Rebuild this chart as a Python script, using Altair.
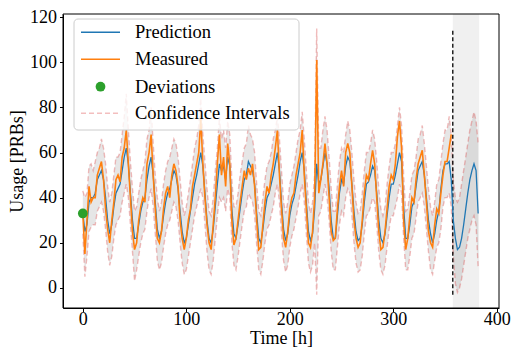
import altair as alt
import pandas as pd

# ---------------- data (2-hour steps) ----------------
step = 2
measured = [
    33, 15, 30, 45, 38, 40, 40, 50, 53, 56, 48, 35,
    26, 20, 30, 38, 48, 50, 47, 58, 62, 70, 55, 40,
    25, 17, 20, 30, 36, 40, 38, 55, 60, 68, 50, 35,
    22, 20, 25, 35, 42, 45, 40, 50, 55, 52, 45, 30,
    22, 17, 22, 30, 35, 45, 50, 55, 60, 75, 55, 40,
    28, 20, 17, 28, 40, 55, 68, 50, 58, 45, 64, 55,
    30, 19, 22, 30, 38, 45, 52, 48, 53, 50, 55, 45,
    30, 17, 18, 28, 38, 45, 42, 50, 55, 62, 70, 50,
    35, 22, 18, 25, 35, 40, 42, 50, 55, 60, 70, 50,
    35, 20, 18, 25, 40, 101, 42, 48, 55, 64, 55, 40,
    25, 21, 22, 35, 45, 52, 45, 60, 64, 60, 45, 30,
    22, 18, 20, 30, 42, 50, 48, 55, 61, 55, 40, 25,
    17, 18, 25, 35, 45, 50, 48, 55, 67, 74, 62, 30,
    17, 22, 32, 40, 38, 48, 55, 58, 61, 50, 38, 25,
    20, 18, 28, 35, 33, 42, 50, 56, 56, 62, 68,
]
prediction = [
    33, 25, 28, 38, 40, 40, 42, 48, 50, 52, 48, 40,
    30, 24, 28, 36, 42, 44, 46, 52, 58, 62, 55, 42,
    30, 22, 22, 28, 34, 38, 40, 48, 54, 58, 50, 38,
    26, 22, 25, 32, 38, 42, 44, 48, 52, 50, 44, 34,
    25, 20, 22, 28, 34, 40, 46, 50, 55, 60, 54, 42,
    30, 22, 20, 26, 36, 46, 55, 52, 54, 48, 58, 54,
    35, 24, 22, 28, 35, 42, 48, 50, 56, 54, 52, 46,
    33, 22, 20, 26, 34, 40, 42, 46, 50, 55, 60, 52,
    38, 26, 21, 24, 32, 37, 40, 45, 50, 56, 60, 52,
    38, 25, 21, 24, 35, 55, 46, 48, 54, 60, 55, 44,
    30, 22, 22, 32, 42, 48, 46, 54, 58, 56, 46, 34,
    25, 21, 22, 28, 38, 46, 47, 50, 54, 52, 42, 30,
    22, 20, 24, 32, 40, 46, 46, 50, 55, 60, 56, 36,
    22, 22, 28, 36, 38, 45, 52, 54, 56, 50, 40, 30,
    24, 20, 24, 30, 34, 44, 52, 55, 55, 56, 48, 30,
    22, 17, 18, 22, 28, 35, 42, 48, 52, 55, 52, 33,
]
ci_upper = [
    43, 40, 42, 54, 55, 52, 56, 60, 62, 66, 62, 55,
    45, 38, 42, 50, 58, 58, 60, 68, 76, 86, 70, 56,
    44, 34, 36, 42, 48, 52, 56, 66, 70, 80, 64, 50,
    40, 34, 38, 46, 52, 56, 58, 62, 66, 64, 58, 48,
    38, 32, 36, 42, 48, 55, 62, 66, 72, 84, 68, 56,
    44, 34, 32, 40, 52, 62, 76, 66, 70, 62, 74, 68,
    48, 36, 36, 42, 50, 56, 62, 64, 72, 68, 66, 60,
    46, 34, 32, 40, 48, 54, 56, 60, 66, 70, 76, 66,
    52, 38, 33, 38, 46, 50, 54, 60, 66, 70, 78, 66,
    52, 38, 33, 38, 50, 115, 62, 62, 70, 76, 70, 58,
    44, 34, 34, 46, 56, 62, 60, 68, 74, 70, 60, 48,
    38, 33, 34, 42, 52, 60, 60, 64, 70, 66, 56, 44,
    35, 32, 36, 46, 54, 60, 60, 64, 72, 80, 72, 50,
    34, 35, 42, 50, 52, 58, 66, 68, 72, 64, 54, 44,
    36, 32, 38, 46, 48, 56, 64, 70, 70, 76, 68, 48,
    40, 38, 40, 46, 52, 58, 64, 70, 74, 78, 74, 64,
]
ci_lower = [
    24, 5, 14, 25, 27, 28, 28, 34, 36, 38, 34, 26,
    16, 10, 14, 22, 28, 30, 32, 38, 42, 46, 40, 28,
    16, 3, 8, 14, 20, 24, 26, 34, 40, 44, 36, 24,
    12, 8, 11, 18, 24, 28, 30, 34, 38, 36, 30, 20,
    11, 6, 8, 14, 20, 26, 32, 36, 40, 44, 40, 28,
    16, 8, 6, 12, 22, 32, 40, 38, 40, 34, 44, 40,
    20, 10, 8, 14, 21, 28, 34, 36, 42, 40, 38, 32,
    19, 8, 6, 12, 20, 26, 28, 32, 36, 42, 46, 38,
    24, 12, 7, 10, 18, 23, 26, 31, 36, 42, 46, 38,
    24, 11, 7, 10, 20, -3, 32, 34, 40, 46, 40, 30,
    16, 8, 8, 18, 28, 34, 32, 40, 44, 42, 32, 20,
    11, 7, 8, 14, 24, 32, 33, 36, 40, 38, 28, 16,
    8, 6, 10, 18, 26, 32, 32, 36, 40, 46, 42, 22,
    8, 8, 14, 22, 24, 31, 38, 40, 42, 36, 26, 16,
    8, 6, 12, 18, 20, 26, 36, 40, 40, 42, 36, 14,
    2, -2, 0, 4, 10, 16, 22, 26, 30, 32, 28, 9,
]
deviation_t = [0]
deviation_v = [33]
forecast_start = 357.5
forecast_end = 383
legend_labels = ["Prediction", "Measured", "Deviations", "Confidence Intervals"]
x_ticks = [0, 100, 200, 300, 400]
y_ticks = [0, 20, 40, 60, 80, 100, 120]

# ---------------- tables ----------------
pred_df = pd.DataFrame({
    "t": [i * step for i in range(len(prediction))],
    "pred": prediction, "lo": ci_lower, "hi": ci_upper,
})
meas_df = pd.DataFrame({"t": [i * step for i in range(len(measured))], "meas": measured})
dev_df = pd.DataFrame({"t": deviation_t, "v": deviation_v})
span_df = pd.DataFrame({"a": [forecast_start], "b": [forecast_end]})
vline_df = pd.DataFrame({"x": [forecast_start], "y1": [min(ci_lower)], "y2": [max(ci_upper)]})
one = pd.DataFrame({"k": [0]})

W, H = 436, 294
FONT = "Liberation Serif"
xs = alt.Scale(domain=[-19.15, 402.15], nice=False, zero=False)
ys = alt.Scale(domain=[-8.9, 121.4], nice=False, zero=False)
xax = alt.Axis(values=x_ticks, title="Time [h]", labelFlush=False, labelOverlap=False,
               tickSize=3.5, labelPadding=-1, titlePadding=1)
yax = alt.Axis(values=y_ticks, title="Usage [PRBs]", labelOverlap=False,
               tickSize=3.5, labelPadding=3, titlePadding=3)

span = alt.Chart(span_df).mark_rect(color="#f0f0f0").encode(
    x=alt.X("a:Q", scale=xs, axis=xax), x2="b:Q",
    y=alt.value(0), y2=alt.value(H))

band = alt.Chart(pred_df).mark_area(color="gray", opacity=0.2).encode(
    x=alt.X("t:Q", scale=xs, axis=xax),
    y=alt.Y("lo:Q", scale=ys, axis=yax), y2="hi:Q")

ci_lo = alt.Chart(pred_df).mark_line(color="#d62728", opacity=0.3, strokeDash=[5, 3],
                                     strokeWidth=1.4).encode(
    x=alt.X("t:Q", scale=xs), y=alt.Y("lo:Q", scale=ys))
ci_hi = alt.Chart(pred_df).mark_line(color="#d62728", opacity=0.3, strokeDash=[5, 3],
                                     strokeWidth=1.4).encode(
    x=alt.X("t:Q", scale=xs), y=alt.Y("hi:Q", scale=ys))

vline = alt.Chart(vline_df).mark_rule(color="black", strokeDash=[4, 2.5], strokeWidth=1.3).encode(
    x=alt.X("x:Q", scale=xs), y=alt.Y("y1:Q", scale=ys), y2="y2:Q")

pred_line = alt.Chart(pred_df).mark_line(color="#1f77b4", strokeWidth=1.3).encode(
    x=alt.X("t:Q", scale=xs), y=alt.Y("pred:Q", scale=ys))
meas_line = alt.Chart(meas_df).mark_line(color="#ff7f0e", strokeWidth=1.6).encode(
    x=alt.X("t:Q", scale=xs), y=alt.Y("meas:Q", scale=ys))
dev_pts = alt.Chart(dev_df).mark_point(filled=True, shape="circle", color="#2ca02c",
                                       opacity=1, size=95).encode(
    x=alt.X("t:Q", scale=xs), y=alt.Y("v:Q", scale=ys))

frame = alt.Chart(one).mark_rect(fill=None, fillOpacity=0, stroke="black", strokeWidth=1).encode(
    x=alt.value(0), x2=alt.value(W), y=alt.value(0), y2=alt.value(H))

# ---------------- legend (drawn by hand) ----------------
rows_y = [18.3, 45.3, 72.7, 99.3]
leg_box = alt.Chart(one).mark_rect(fill="white", fillOpacity=0.8, stroke="#cccccc",
                                   strokeWidth=1, cornerRadius=4).encode(
    x=alt.value(11), x2=alt.value(236), y=alt.value(5), y2=alt.value(116))
leg_pred = alt.Chart(one).mark_rule(color="#1f77b4", strokeWidth=1.4).encode(
    x=alt.value(18), x2=alt.value(57), y=alt.value(rows_y[0]))
leg_meas = alt.Chart(one).mark_rule(color="#ff7f0e", strokeWidth=1.4).encode(
    x=alt.value(18), x2=alt.value(57), y=alt.value(rows_y[1]))
leg_dev = alt.Chart(one).mark_point(filled=True, shape="circle", color="#2ca02c",
                                    opacity=1, size=95).encode(
    x=alt.value(37.5), y=alt.value(rows_y[2]))
leg_ci = alt.Chart(one).mark_rule(color="#d62728", opacity=0.3, strokeDash=[5, 3],
                                  strokeWidth=1.4).encode(
    x=alt.value(18), x2=alt.value(57), y=alt.value(rows_y[3]))
leg_texts = [
    alt.Chart(one).mark_text(text=lab, align="left", baseline="middle", font=FONT,
                             fontSize=18.5, color="black").encode(
        x=alt.value(72), y=alt.value(yy))
    for lab, yy in zip(legend_labels, rows_y)
]

chart = alt.layer(
    span, band, ci_lo, ci_hi, vline, pred_line, meas_line, dev_pts, frame,
    leg_box, leg_pred, leg_meas, leg_dev, leg_ci, *leg_texts
).properties(
    width=W, height=H,
    autosize=alt.AutoSizeParams(type="none"),
    padding={"left": 55, "top": 6, "right": 12, "bottom": 40},
).configure_view(
    stroke=None
).configure_axis(
    labelFont=FONT, titleFont=FONT, labelFontSize=18, titleFontSize=18,
    titleFontWeight="normal", labelColor="black", titleColor="black",
    tickColor="black", domainColor="black", grid=False, domainWidth=1, tickWidth=1,
)

chart.save("out.html", embed_options={"renderer": "svg", "actions": False})
